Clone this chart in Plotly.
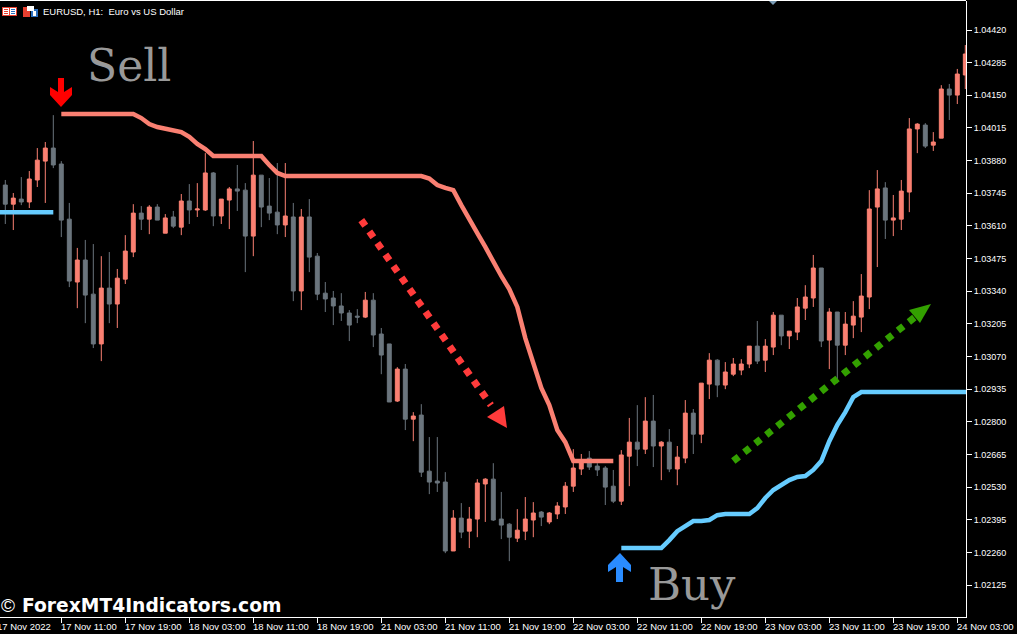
import plotly.graph_objects as go

W, H = 1017, 634
PL, PR, PT, PB = 0, 966, 1, 617

# prices in points (1e-5)
opens = [103779,103700,103721,103709,103800,103878,103932,103866,103638,103378,103469,103328,103122,103353,103287,103390,103502,103663,103638,103688,103580,103647,103605,103713,103676,103676,103829,103651,103717,103763,103758,103568,103820,103692,103667,103614,103647,103341,103647,103485,103332,103312,103279,103250,103237,103233,103303,103163,103122,102886,103018,102811,102828,102596,102555,102551,102266,102402,102348,102398,102543,102563,102398,102377,102319,102348,102394,102427,102386,102419,102448,102534,102605,102650,102617,102609,102534,102472,102658,102716,102687,102803,102700,102716,102605,102650,102836,102749,102956,103055,102952,102997,103014,103039,103113,103055,103109,103241,103155,103171,103270,103312,103436,103138,103254,103117,103200,103233,103316,103688,103767,103634,103638,103750,104011,104027,103944,103973,104176,104151,104234]
highs = [103800,103746,103812,103837,103932,103957,104068,103878,103705,103519,103552,103535,103485,103502,103432,103572,103700,103692,103696,103700,103659,103672,103742,103783,103787,103911,103833,103721,103771,103862,103787,103961,103820,103808,103870,103870,103705,103680,103721,103498,103378,103341,103332,103262,103266,103337,103332,103188,103122,103026,103039,102840,102873,102737,102737,102592,102435,102464,102448,102563,102567,102629,102510,102381,102439,102489,102468,102431,102427,102468,102551,102687,102667,102679,102629,102617,102601,102683,102816,102869,102902,102911,102720,102770,102700,102890,102853,102960,103084,103059,103047,103064,103059,103113,103217,103142,103254,103241,103175,103312,103365,103490,103436,103270,103254,103254,103299,103411,103758,103841,103791,103738,103800,104056,104035,104035,103998,104192,104197,104259,104358]
lows = [103618,103593,103696,103684,103771,103705,103849,103564,103357,103270,103208,103105,103051,103208,103188,103370,103481,103593,103576,103634,103580,103601,103572,103618,103647,103672,103609,103618,103597,103672,103419,103485,103605,103634,103576,103564,103299,103262,103419,103303,103254,103200,103217,103134,103208,103229,103109,102997,102882,102882,102766,102720,102572,102501,102510,102257,102266,102319,102278,102323,102386,102390,102315,102224,102303,102311,102323,102369,102377,102398,102419,102510,102580,102601,102576,102456,102464,102456,102534,102617,102667,102613,102559,102592,102538,102629,102667,102712,102894,102902,102935,102989,102993,103022,103039,103006,103076,103117,103101,103138,103221,103275,103109,103018,102960,103076,103146,103171,103266,103440,103556,103568,103593,103667,103911,103932,103920,103973,104048,104114,104176]
closes = [103700,103725,103709,103804,103882,103932,103862,103634,103382,103469,103324,103122,103353,103287,103394,103506,103663,103638,103688,103634,103643,103609,103713,103676,103680,103829,103651,103721,103763,103754,103568,103820,103688,103663,103614,103651,103341,103647,103481,103328,103308,103279,103250,103200,103233,103303,103159,103076,102882,103018,102811,102824,102592,102551,102547,102266,102402,102344,102398,102547,102563,102394,102373,102323,102352,102398,102423,102406,102423,102452,102534,102609,102642,102613,102601,102530,102472,102663,102716,102687,102803,102700,102716,102605,102654,102836,102749,102960,103055,102952,103006,103039,103039,103113,103051,103113,103241,103155,103175,103275,103316,103436,103134,103254,103117,103204,103237,103320,103680,103763,103634,103643,103754,104011,104031,103940,103957,104176,104151,104238,104321]

sell_idx = list(range(7, 77))
sell_line = [104073]*10 + [104056,104031,104019,104011,104002,103998,103978,103949,103928,103899,103899,103899,103899,103899,103899,103899,103862,103829] + [103816]*18 + [103806,103779,103767,103758,103696,103634,103580,103523,103461,103403,103349,103275,103146,103043,102940,102869,102766,102716,102638,102638,102638,102638,102638,102638]
buy_left_idx = list(range(-1, 7))
buy_left = [103667]*8
buy_idx = list(range(77, 122))
buy_line = [102278]*6 + [102311,102348,102369,102390,102390,102394,102414,102419,102419,102419,102419,102443,102485,102518,102538,102559,102572,102576,102601,102638,102720,102787,102840,102902] + [102923]*15

tick_idx = [-1,7,15,23,31,39,47,55,63,71,79,87,95,103,111,119]
tick_text = ["17 Nov 2022","17 Nov 11:00","17 Nov 19:00","18 Nov 03:00","18 Nov 11:00","18 Nov 19:00","21 Nov 03:00","21 Nov 11:00","21 Nov 19:00","22 Nov 03:00","22 Nov 11:00","22 Nov 19:00","23 Nov 03:00","23 Nov 11:00","23 Nov 19:00","24 Nov 03:00"]
price_ticks = [1.02125,1.02260,1.02395,1.02530,1.02665,1.02800,1.02935,1.03070,1.03205,1.03340,1.03475,1.03610,1.03745,1.03880,1.04015,1.04150,1.04285,1.04420]

red_trend_x, red_trend_y = [44.5, 60.7], [103634, 102869]
green_trend_x, green_trend_y = [91.0, 113.7], [102638, 103233]

SALMON, GREY, BLUE = "#fa8072", "#6b757d", "#66ccff"
FONT = "Liberation Sans"
P = lambda seq: [v / 1e5 for v in seq]
idx = list(range(len(opens)))

fig = go.Figure()
fig.add_trace(go.Candlestick(x=idx, open=P(opens), high=P(highs), low=P(lows), close=P(closes),
    increasing=dict(line=dict(color=SALMON, width=1), fillcolor=SALMON),
    decreasing=dict(line=dict(color=GREY, width=1), fillcolor=GREY),
    whiskerwidth=0, showlegend=False, hoverinfo="skip"))
fig.add_trace(go.Scatter(x=sell_idx, y=P(sell_line), mode="lines", line=dict(color=SALMON, width=4.5), showlegend=False))
fig.add_trace(go.Scatter(x=buy_left_idx, y=P(buy_left), mode="lines", line=dict(color=BLUE, width=4.5), showlegend=False))
fig.add_trace(go.Scatter(x=buy_idx, y=P(buy_line), mode="lines", line=dict(color=BLUE, width=4.5), showlegend=False))
fig.add_trace(go.Scatter(x=red_trend_x, y=P(red_trend_y), mode="lines", line=dict(color="#ff3b3b", width=7, dash="7px,7px"), showlegend=False))
fig.add_trace(go.Scatter(x=green_trend_x, y=P(green_trend_y), mode="lines", line=dict(color="#33a000", width=7, dash="7px,7px"), showlegend=False))

def px(x, y):
    return (x - PL) / (PR - PL), 1 - (y - PT) / (PB - PT)

def poly(points, color):
    parts = []
    for i, (x, y) in enumerate(points):
        fx, fy = px(x, y)
        parts.append(("M" if i == 0 else "L") + f"{fx:.5f},{fy:.5f}")
    return dict(type="path", xref="paper", yref="paper", path=" ".join(parts) + " Z",
                fillcolor=color, line=dict(width=0), layer="above")

def rect(x0, y0, x1, y1, color):
    return poly([(x0, y0), (x1, y0), (x1, y1), (x0, y1)], color)

shapes = [
    poly([(504,406),(487,417),(507,428)], "#ff3b3b"),
    poly([(931,304),(909,310),(920,323)], "#33a000"),
    poly([(58,78),(64,78),(64,92),(72,87),(72,95),(61,107),(50,95),(50,87),(58,92)], "#ff0000"),
    poly([(620,553),(631,565),(631,572),(623,567),(623,582),(616,582),(616,567),(608,572),(608,565)], "#2a8cff"),
    poly([(768,0),(778,0),(773,5)], "#7a9bb5"),
    rect(0, 0, 966, 1, "#ffffff"),
    # window icons
    rect(2,7,17,16,"#e84030"), rect(3,8,9,15,"#ffffff"), rect(10,8,16,15,"#ffffff"),
    rect(4,9,8,10,"#e84030"), rect(4,11,8,12,"#e84030"), rect(4,13,8,14,"#e84030"),
    rect(11,9,15,10,"#2a6fc0"), rect(11,11,15,12,"#2a6fc0"), rect(11,13,15,14,"#2a6fc0"),
    rect(23,7,30,17,"#e84030"), rect(31,9,38,17,"#2a6fc0"), rect(27,6,34,11,"#ffffff"), rect(33,11,36,16,"#ffffff"),
]

annotations = []
def text(x, y, s, size, color, family=FONT, bold=False, anchor="left"):
    fx, fy = px(x, y)
    annotations.append(dict(x=fx, y=fy, xref="paper", yref="paper", text=f"<b>{s}</b>" if bold else s,
        showarrow=False, xanchor=anchor, yanchor="middle", align="left",
        font=dict(family=family, size=size, color=color), borderpad=0, borderwidth=0))

for i, t in zip(tick_idx, tick_text):
    x = 5.3 + 8 * i
    text(x, 626, t, 9.5, "#ffffff")
text(43, 11, "EURUSD, H1:&nbsp;&nbsp;Euro vs US Dollar", 9.5, "#ffffff")
text(87, 65, "Sell", 44, "#999999", family="DejaVu Serif")
text(648, 584, "Buy", 45, "#999999", family="DejaVu Serif")
text(1, 605, "©", 19, "#ffffff")
text(22, 605, "ForexMT4Indicators.com", 18.7, "#ffffff", family="DejaVu Sans", bold=True)

fig.update_layout(
    width=W, height=H, autosize=False,
    margin=dict(l=PL, r=W - PR, t=PT, b=H - PB),
    paper_bgcolor="#000000", plot_bgcolor="#000000",
    shapes=shapes, annotations=annotations, showlegend=False,
    xaxis=dict(range=[(PL - 5.3) / 8, (PR - 5.3) / 8], rangeslider=dict(visible=False),
        showgrid=False, zeroline=False, showline=True, linecolor="#ffffff", linewidth=1,
        tickmode="array", tickvals=tick_idx, ticktext=[""] * len(tick_idx),
        ticks="outside", ticklen=5, tickcolor="#ffffff", tickwidth=1),
    yaxis=dict(side="right", range=[1.01993, 1.04540], showgrid=False, zeroline=False,
        showline=True, linecolor="#ffffff", linewidth=1,
        tickmode="array", tickvals=price_ticks, tickformat=".5f",
        ticks="outside", ticklen=5, tickcolor="#ffffff", tickwidth=1,
        tickfont=dict(family=FONT, size=9, color="#ffffff")),
)
fig.write_html("out.html", config=dict(displayModeBar=False),
               post_script="document.body.style.margin='0';document.body.style.overflow='hidden';")
